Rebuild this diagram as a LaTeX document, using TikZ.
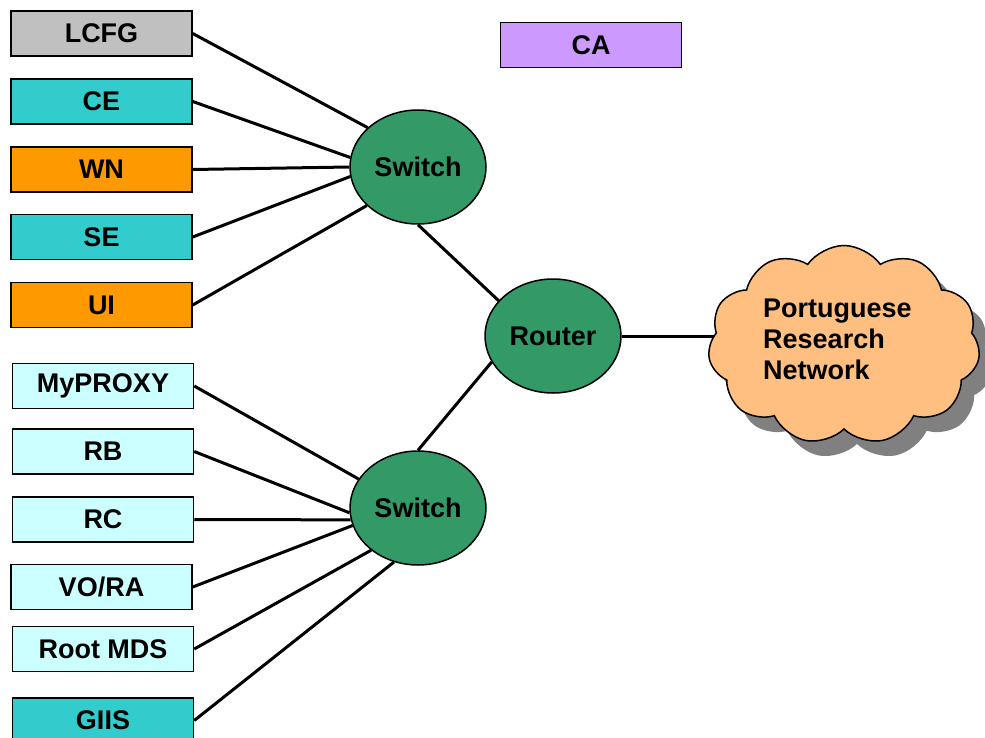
\documentclass[tikz,border=0pt]{standalone}
\usepackage{fontspec}
\setmainfont{Liberation Sans}
\usetikzlibrary{shapes.geometric,shapes.symbols,shadows}
\pgfdeclarelayer{background}
\pgfsetlayers{background,main}
\definecolor{cgray}{HTML}{C0C0C0}
\definecolor{cteal}{HTML}{33CCCC}
\definecolor{corange}{HTML}{FF9900}
\definecolor{clcyan}{HTML}{CCFFFF}
\definecolor{cpurple}{HTML}{CC99FF}
\definecolor{cgreen}{HTML}{339966}
\definecolor{ccloud}{HTML}{FFBF80}
\definecolor{cshadow}{HTML}{808080}
\tikzset{
  lbl/.style={font=\fontsize{27}{32}\selectfont\bfseries},
  box/.style={lbl, draw=black, line width=1.5pt, minimum width=181pt, minimum height=45pt, inner sep=0pt},
  hub/.style={lbl, ellipse, draw=black, line width=1.5pt, fill=cgreen, minimum width=136pt, minimum height=114pt, inner sep=0pt},
  link/.style={line width=3pt, black},
}
\begin{document}
\begin{tikzpicture}[x=1pt,y=-1pt]
\useasboundingbox (0,0) rectangle (985,738);
% top boxes
\node[box, fill=cgray]   (lcfg) at (101.5,33.5) {LCFG};
\node[box, fill=cteal]   (ce)   at (101.5,101.5) {CE};
\node[box, fill=corange] (wn)   at (101.5,169.5) {WN};
\node[box, fill=cteal]   (se)   at (101.5,237) {SE};
\node[box, fill=corange] (ui)   at (101.5,305) {UI};
% bottom boxes
\node[box, fill=clcyan] (myproxy) at (103,386) {MyPROXY};
\node[box, fill=clcyan] (rb)      at (103,451.5) {RB};
\node[box, fill=clcyan] (rc)      at (103,519.5) {RC};
\node[box, fill=clcyan] (vora)    at (101.5,587) {VO/RA};
\node[box, fill=clcyan] (rootmds) at (103,649) {Root MDS};
\node[box, fill=cteal]  (giis)    at (103,720.5) {GIIS};
% CA
\node[box, fill=cpurple] (ca) at (591,45) {CA};
% hubs
\node[hub] (sw1) at (418,167) {Switch};
\node[hub] (sw2) at (418,508) {Switch};
\node[hub] (router) at (553,336) {Router};
% cloud
\node[cloud, cloud puffs=11, cloud puff arc=110, cloud ignores aspect, draw=black, line width=1.5pt, fill=ccloud,
      minimum width=272pt, minimum height=199pt,
      drop shadow={shadow xshift=13pt, shadow yshift=-15pt, fill=cshadow, opacity=1}] (net) at (844,345) {};
\node[lbl, align=left, anchor=west, inner sep=0pt] (nettext) at (763,339) {Portuguese\\[-1pt]Research\\[-1pt]Network};
% links
\draw[link] (lcfg.east) -- (sw1.142);
\draw[link] (ce.east) -- (sw1.172);
\draw[link] (wn.east) -- (sw1.west);
\draw[link] (se.east) -- (sw1.188);
\draw[link] (ui.east) -- (sw1.217);
\draw[link] (myproxy.east) -- (sw2.154);
\draw[link] (rb.east) -- (sw2.184);
\draw[link] (rc.east) -- (sw2.190);
\draw[link] (vora.east) -- (sw2.195);
\draw[link] (rootmds.east) -- (sw2.222);
\draw[link] (giis.east) -- (sw2.246);
\draw[link] (sw1.south) -- (router.147);
\draw[link] (router.203) -- (sw2.north);
\begin{pgfonlayer}{background}
\draw[link] (router.east) -- (router.east -| net.center);
\end{pgfonlayer}
\end{tikzpicture}
\end{document}
